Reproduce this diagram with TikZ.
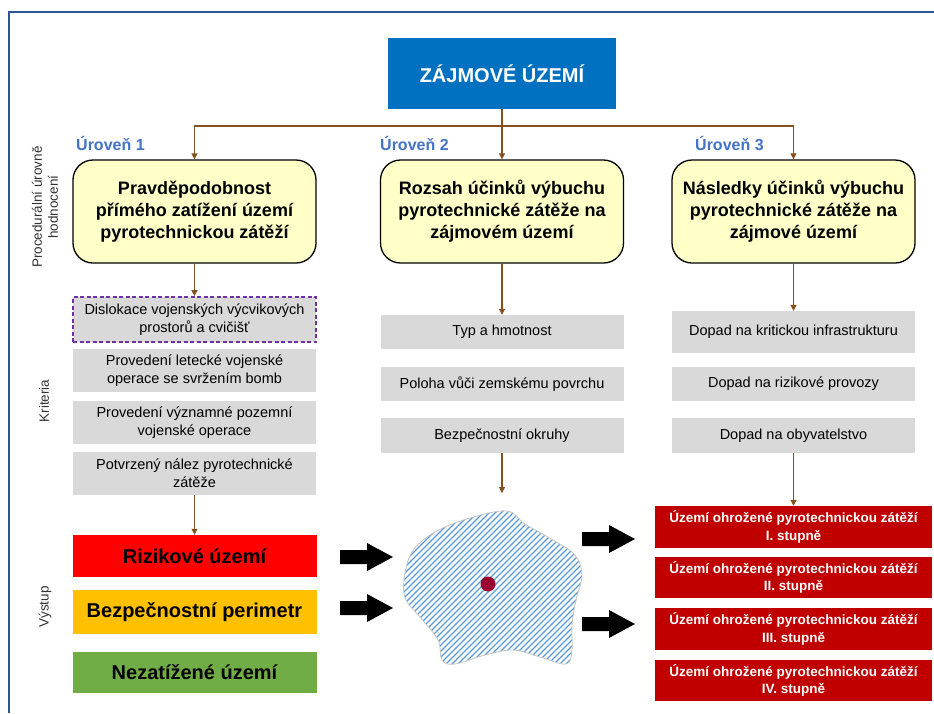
\documentclass[tikz,border=0pt]{standalone}
\usepackage{fontspec}
\setmainfont{Liberation Sans}
\usetikzlibrary{arrows.meta}
\definecolor{framec}{HTML}{2F5597}
\definecolor{blueC}{HTML}{0070C0}
\definecolor{lvlC}{HTML}{4472C4}
\definecolor{yellowC}{HTML}{FFFFC8}
\definecolor{brC}{RGB}{132,80,30}
\definecolor{grayC}{HTML}{D9D9D9}
\definecolor{purpleC}{HTML}{7030A0}
\definecolor{redC}{HTML}{FF0000}
\definecolor{orangeC}{HTML}{FFC000}
\definecolor{greenC}{HTML}{70AD47}
\definecolor{dredC}{HTML}{C00000}
\definecolor{hatchC}{HTML}{5B9BD5}
\definecolor{dotC}{HTML}{9B0030}
\definecolor{sideC}{HTML}{333333}
\begin{document}
\begin{tikzpicture}[x=1pt,y=-1pt,
  every node/.style={inner sep=0pt, align=center},
  topbox/.style={fill=blueC, minimum width=228pt, minimum height=71pt, text=white, font=\bfseries\fontsize{20}{24}\selectfont},
  lvl/.style={anchor=west, text=lvlC, font=\bfseries\fontsize{16}{19}\selectfont},
  ybox/.style={draw=black, line width=1.3pt, fill=yellowC, rounded corners=20pt, minimum width=243pt, minimum height=103pt, font=\bfseries\fontsize{18}{22}\selectfont},
  crit/.style={fill=grayC, minimum width=243pt, font=\fontsize{14.5}{18}\selectfont},
  outbox/.style={minimum width=244pt, font=\bfseries\fontsize{20}{24}\selectfont},
  redbox/.style={fill=dredC, text=white, minimum width=277pt, font=\bfseries\fontsize{13.5}{17.5}\selectfont},
  side/.style={text=sideC, font=\fontsize{13.5}{16}\selectfont, rotate=90},
  conn/.style={draw=brC, line width=1.1pt, -{Triangle[length=6pt,width=6pt]}},
  fatarrow/.pic={\fill[black] (0,-7) -- (27,-7) -- (27,-14) -- (53,0) -- (27,14) -- (27,7) -- (0,7) -- cycle;}
]
\useasboundingbox (0,0) rectangle (934,713);
\fill[white] (0,0) rectangle (934,713);
\draw[framec, line width=2pt] (9,713) -- (9,12) -- (934,12);

% top
\node[topbox] (top) at (502,73.5) {ZÁJMOVÉ ÚZEMÍ};
\node[lvl] (l1) at (76,143) {Úroveň 1};
\node[lvl] (l2) at (380,143) {Úroveň 2};
\node[lvl] (l3) at (695,143) {Úroveň 3};

% yellow boxes
\node[ybox] (y1) at (194.5,211.5) {Pravděpodobnost\\přímého zatížení území\\pyrotechnickou zátěží};
\node[ybox] (y2) at (502,211.5) {Rozsah účinků výbuchu\\pyrotechnické zátěže na\\zájmovém území};
\node[ybox] (y3) at (793.5,211.5) {Následky účinků výbuchu\\pyrotechnické zátěže na\\zájmové území};

% criteria left
\node[crit, minimum height=45pt, draw=purpleC, line width=1.8pt, dash pattern=on 4pt off 2.5pt] (c1) at (194.5,319.5) {Dislokace vojenských výcvikových\\prostorů a cvičišť};
\node[crit, minimum height=43pt] (c2) at (194.5,370.5) {Provedení letecké vojenské\\operace se svržením bomb};
\node[crit, minimum height=43pt] (c3) at (194.5,422.5) {Provedení významné pozemní\\vojenské operace};
\node[crit, minimum height=43pt] (c4) at (194.5,473.5) {Potvrzený nález pyrotechnické\\zátěže};

% criteria middle
\node[crit, minimum height=34pt] (m1) at (502,332) {Typ a hmotnost};
\node[crit, minimum height=34pt] (m2) at (502,384) {Poloha vůči zemskému povrchu};
\node[crit, minimum height=35pt] (m3) at (502,435.5) {Bezpečnostní okruhy};

% criteria right
\node[crit, minimum height=42pt] (r1) at (793.5,332) {Dopad na kritickou infrastrukturu};
\node[crit, minimum height=34pt] (r2) at (793.5,384) {Dopad na rizikové provozy};
\node[crit, minimum height=35pt] (r3) at (793.5,435.5) {Dopad na obyvatelstvo};

% outputs left
\node[outbox, fill=redC, minimum height=42pt] (o1) at (194.5,556) {Rizikové území};
\node[outbox, fill=orangeC, minimum height=44pt] (o2) at (194.5,612) {Bezpečnostní perimetr};
\node[outbox, fill=greenC, minimum height=41pt] (o3) at (194.5,672.5) {Nezatížené území};

% red boxes right
\node[redbox, minimum height=42pt] (d1) at (793.5,527) {Území ohrožené pyrotechnickou zátěží\\I. stupně};
\node[redbox, minimum height=41pt] (d2) at (793.5,577.5) {Území ohrožené pyrotechnickou zátěží\\II. stupně};
\node[redbox, minimum height=42pt] (d3) at (793.5,629) {Území ohrožené pyrotechnickou zátěží\\III. stupně};
\node[redbox, minimum height=41pt] (d4) at (793.5,680.5) {Území ohrožené pyrotechnickou zátěží\\IV. stupně};

% side labels
\node[side] (s1) at (45,207) {Procedurální úrovně\\hodnocení};
\node[side] (s2) at (44,401) {Kriteria};
\node[side] (s3) at (45,607) {Výstup};

% blob
\begin{scope}
\clip plot[smooth cycle, tension=0.6] coordinates {(404,580) (412,552) (435,532) (470,518) (507,511) (525,524) (553,540) (575,555) (582,575) (576,600) (572,625) (572,650) (566,664) (540,657) (513,650) (485,655) (455,664) (442,660) (438,640) (420,617) (406,600)};
\foreach \k in {906,912,...,1262} \draw[hatchC, line width=1.1pt] (\k-700,700) -- (\k-400,400);
\end{scope}
\draw[black!22, line width=0.8pt] plot[smooth cycle, tension=0.6] coordinates {(404,580) (412,552) (435,532) (470,518) (507,511) (525,524) (553,540) (575,555) (582,575) (576,600) (572,625) (572,650) (566,664) (540,657) (513,650) (485,655) (455,664) (442,660) (438,640) (420,617) (406,600)};
\fill[dotC] (488,584) circle[radius=7.5pt];
\coordinate (blobtop) at (502,493);

% connectors
\coordinate (hub) at (502,126);
\draw[conn] (top.south) -- (y2.north);
\draw[conn] (hub) -| (y1.north);
\draw[conn] (hub) -| (y3.north);
\draw[conn] (y1.south) -- (c1.north);
\draw[conn] (y2.south) -- (m1.north);
\draw[conn] (y3.south) -- (r1.north);
\draw[conn] (c4.south) -- (o1.north);
\draw[conn] (m3.south) -- (blobtop);
\draw[conn] (r3.south) -- (d1.north);

% fat arrows
\pic at (340,557) {fatarrow};
\pic at (340,608) {fatarrow};
\pic at (582,539) {fatarrow};
\pic at (582,624) {fatarrow};
\end{tikzpicture}
\end{document}
